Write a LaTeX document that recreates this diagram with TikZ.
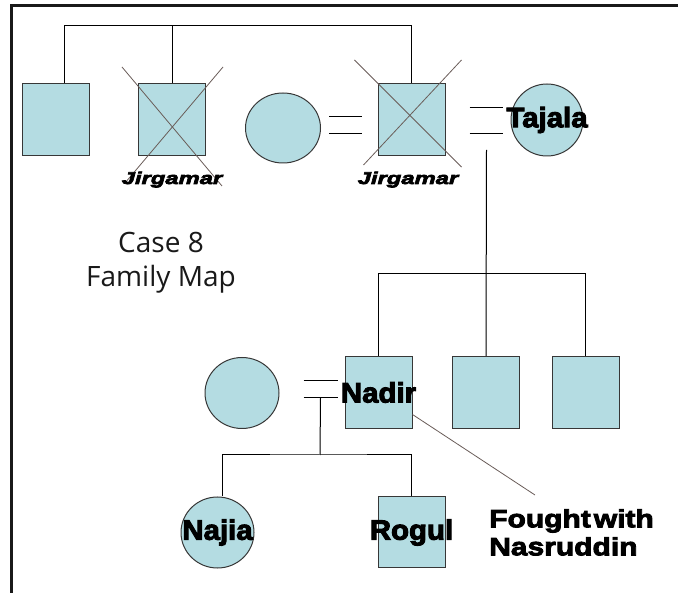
\documentclass[tikz,border=0pt]{standalone}
\usepackage{fontspec}
\usepackage{tikz}
\usetikzlibrary{shapes.geometric}
\usetikzlibrary{calc}
\usepackage{xcolor}
\newfontfamily\casefont{Open Sans}
\newfontfamily\heavy[FakeBold=3.5,FakeStretch=1.05]{Liberation Sans}
\newfontfamily\heavynote[FakeBold=3.5,FakeStretch=1.2]{Liberation Sans}
\newfontfamily\heavyital[FakeBold=4,FakeStretch=1.4]{Liberation Sans}
\definecolor{famblue}{RGB}{180,220,226}
\definecolor{famline}{RGB}{55,55,55}
\definecolor{famcross}{RGB}{105,92,88}

\begin{document}
\begin{tikzpicture}[x=1pt,y=-1pt,
  male/.style={draw=famline,line width=1pt,fill=famblue,rectangle,minimum width=67pt,minimum height=72pt,inner sep=0pt},
  female/.style={draw=famline,line width=1pt,fill=famblue,ellipse,minimum width=74pt,minimum height=71pt,inner sep=0pt},
  namelbl/.style={font=\heavy\bfseries\fontsize{28}{30}\selectfont,inner sep=0pt},
  deadlbl/.style={font=\heavyital\bfseries\itshape\fontsize{17}{19}\selectfont,inner sep=0pt,anchor=base},
  crossline/.style={famcross,line width=0.8pt},
  conn/.style={black,line width=1pt}]
\useasboundingbox (0,0) rectangle (678,593);
\draw [line width=3pt,black!90] (11,593) -- (11,6) -- (678,6);

% first generation
\node [male] (bro) at (56,120) {};
\node [male] (jir1) at (172,120) {};
\node [female,minimum width=75pt,minimum height=70pt] (wife1) at (283,128) {};
\node [male] (jir2) at (411.5,120) {};
\node [female,minimum width=72pt,minimum height=72pt] (tajala) at (547,120) {};
\draw [crossline] ($(jir1)+(-50,-53)$) -- ($(jir1)+(50,66)$);
\draw [crossline] ($(jir1)+(51,-53)$) -- ($(jir1)+(-47,63)$);
\draw [crossline] ($(jir2)+(-57,-60)$) -- ($(jir2)+(50,47)$);
\draw [crossline] ($(jir2)+(50,-60)$) -- ($(jir2)+(-48,45)$);
\node [deadlbl] (jir1lbl) at (172,184) {Jirgamar};
\node [deadlbl] (jir2lbl) at (408,184) {Jirgamar};
\node [namelbl] (tajalalbl) at (tajala) {Tajala};

\coordinate (top) at (0,26);
\draw [conn] ($(bro.north)+(8,0)$) |- (top -| jir2.north) -- (jir2.north);
\draw [conn] (jir1.north) -- (jir1.north |- top);
\draw [conn] ($(wife1.east)+(8,-11)$) -- ($(jir2.west)+(-16,-3)$);
\draw [conn] ($(wife1.east)+(8,6)$) -- ($(jir2.west)+(-16,14)$);
\draw [conn] ($(jir2.east)+(24,-12)$) -- ($(tajala.west)+(-8,-12)$);
\draw [conn] ($(jir2.east)+(24,14)$) -- ($(tajala.west)+(-8,14)$);

\node at (161,263) [font=\casefont\fontsize{28}{34}\selectfont,text=black!90,align=center] (case) {Case 8\\Family Map};

% second generation
\node [male] (nadir) at (378.5,392.5) {};
\node [male] (son2) at (486,392.5) {};
\node [male] (son3) at (585.5,392.5) {};
\node [female] (wife2) at (242,393) {};
\node [namelbl] (nadirlbl) at (nadir) {Nadir};

\coordinate (kids) at (486,274);
\draw [conn] ($(jir2.east)+(41,30)$) -- (son2.north);
\draw [conn] (nadir.north) -- (nadir.north |- kids) -- (son3.north |- kids) -- (son3.north);
\draw [conn] ($(wife2.east)+(24,-12)$) -- ($(nadir.west)+(-7,-11.5)$);
\draw [conn] ($(wife2.east)+(24,5)$) -- ($(nadir.west)+(-7,5.5)$);

% third generation
\node [female,minimum width=73pt] (najia) at (217.5,532.5) {};
\node [male,minimum height=71pt] (rogul) at (411.5,532.5) {};
\node [namelbl] (najialbl) at (najia) {Najia};
\node [namelbl] (rogullbl) at (rogul) {Rogul};

\coordinate (fam) at (320,455);
\draw [conn] ($(wife2.east)+(41,5)$) -- (fam);
\draw [conn] ($(najia.north)+(4.5,0)$) |- (fam) -| (rogul.north);

\node [font=\heavynote\bfseries\fontsize{25}{28}\selectfont,align=left,anchor=north west,inner sep=0pt] (fought) at (489,509) {\spaceskip=.12em\relax Fought with\\Nasruddin};
\coordinate (tip) at ($(fought.north west)+(46,-14)$);
\draw [crossline] ($(nadir.east)+(0,22)$) -- (tip);

\end{tikzpicture}
\end{document}
